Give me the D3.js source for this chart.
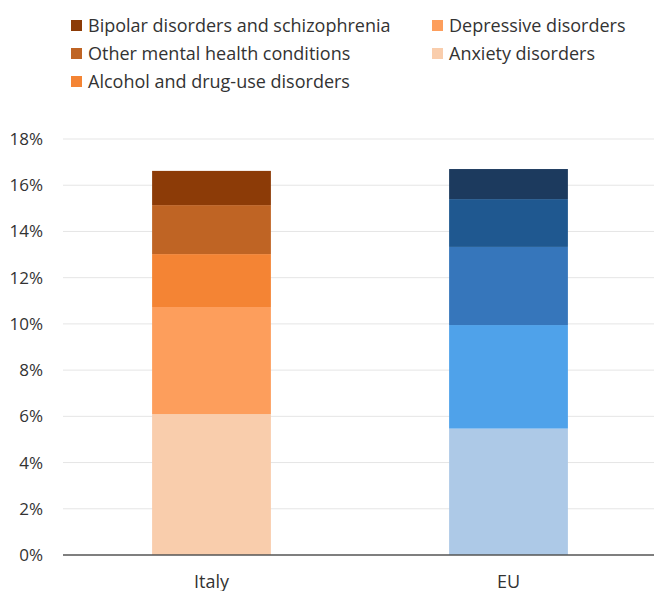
<!DOCTYPE html>
<html>
<head>
<meta charset="utf-8">
<script src="https://cdn.jsdelivr.net/npm/d3@7"></script>
<style>
  body { margin: 0; background: #fff; }
  svg text { font-family: "Open Sans", sans-serif; fill: #333; }
</style>
</head>
<body>
<div id="chart"></div>
<script>
// data
const countries = ["Italy", "EU"];
const categories = ["Anxiety disorders", "Depressive disorders", "Alcohol and drug-use disorders", "Other mental health conditions", "Bipolar disorders and schizophrenia"];
const italyValues = [6.10, 4.63, 2.29, 2.12, 1.48];
const euValues = [5.47, 4.48, 3.38, 2.07, 1.30];
const yTicks = [0, 2, 4, 6, 8, 10, 12, 14, 16, 18];
const legendOrder = ["Bipolar disorders and schizophrenia", "Depressive disorders", "Other mental health conditions", "Anxiety disorders", "Alcohol and drug-use disorders"];

// colours per country, same order as categories
const italyColors = ["#f9cdac", "#fd9e5c", "#f48434", "#bf6424", "#8c3b07"];
const euColors = ["#adc9e7", "#4fa2ea", "#3676bb", "#1f5890", "#1c3a5e"];

const width = 654, height = 591;
const margin = {top: 139, right: 0, bottom: 36, left: 63};

const svg = d3.select("#chart").append("svg")
  .attr("width", width)
  .attr("height", height);

const x = d3.scaleBand()
  .domain(countries)
  .range([margin.left, 657])
  .paddingInner(0.6)
  .paddingOuter(0.3);

const y = d3.scaleLinear()
  .domain([0, 18])
  .range([height - margin.bottom, margin.top]);

// gridlines
svg.append("g")
  .selectAll("line")
  .data(yTicks.filter(d => d > 0))
  .enter().append("line")
  .attr("x1", margin.left)
  .attr("x2", width)
  .attr("y1", d => y(d))
  .attr("y2", d => y(d))
  .attr("stroke", "#e5e5e5")
  .attr("stroke-width", 1);

// y axis labels
const yAxis = svg.append("g")
  .attr("transform", "translate(" + margin.left + ",0)")
  .call(d3.axisLeft(y).tickValues(yTicks).tickFormat(d => d + "%").tickSize(0).tickPadding(20));
yAxis.select(".domain").remove();
yAxis.selectAll("text").style("font-size", "17px").attr("fill", "#333");

// stacked bars
const rows = countries.map((c, i) => {
  const vals = i === 0 ? italyValues : euValues;
  const row = {country: c};
  categories.forEach((k, j) => row[k] = vals[j]);
  return row;
});
const stacked = d3.stack().keys(categories)(rows);

stacked.forEach((layer, j) => {
  svg.append("g")
    .selectAll("rect")
    .data(layer)
    .enter().append("rect")
    .attr("x", d => x(d.data.country))
    .attr("width", x.bandwidth())
    .attr("y", d => y(d[1]))
    .attr("height", d => y(d[0]) - y(d[1]))
    .attr("fill", d => d.data.country === "Italy" ? italyColors[j] : euColors[j]);
});

// x axis
const xAxis = svg.append("g")
  .attr("transform", "translate(0," + y(0) + ")")
  .call(d3.axisBottom(x).tickSize(0).tickPadding(20));
xAxis.select(".domain")
  .attr("d", "M" + margin.left + ",0H" + width)
  .attr("stroke", "#555")
  .attr("stroke-width", 1.5);
xAxis.selectAll("text").style("font-size", "18px").attr("fill", "#333");

// legend, two columns
const legend = svg.append("g");
legendOrder.forEach((name, i) => {
  const col = i % 2, row = Math.floor(i / 2);
  const lx = col === 0 ? 71 : 432;
  const ly = 20 + row * 28;
  const g = legend.append("g").attr("transform", "translate(" + lx + "," + ly + ")");
  g.append("rect")
    .attr("width", 11)
    .attr("height", 11)
    .attr("fill", italyColors[categories.indexOf(name)]);
  g.append("text")
    .attr("x", 17)
    .attr("y", 12)
    .style("font-size", "18px")
    .text(name);
});
</script>
</body>
</html>
